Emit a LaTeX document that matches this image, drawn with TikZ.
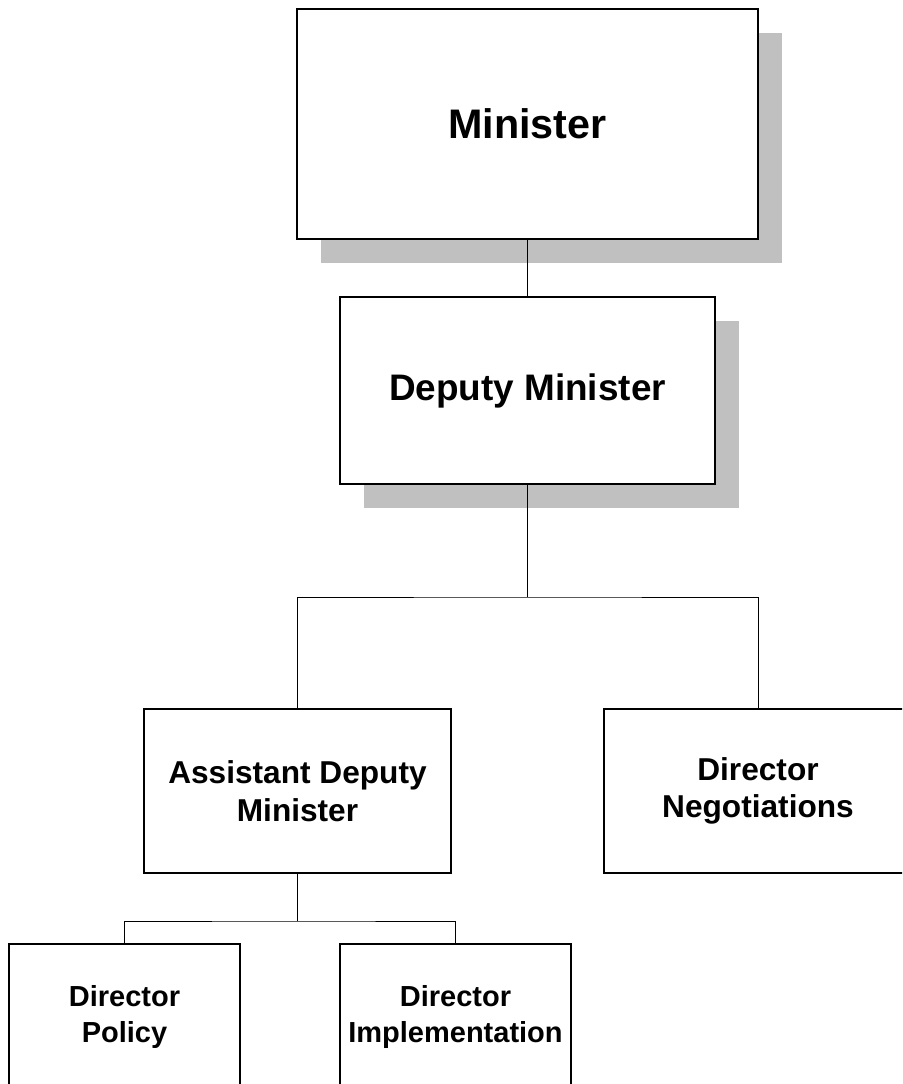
\documentclass[tikz,border=0pt]{standalone}
\usepackage{fontspec}
\setmainfont{Liberation Sans}
\usepackage{tikz}
\usetikzlibrary{shadows}
\usepackage{xcolor}
\definecolor{shadowgray}{RGB}{192,192,192}

\begin{document}
\begin{tikzpicture}[line cap=rect,
  post/.style={draw=black,line width=0.9pt,fill=white,align=center,inner sep=0pt,font=\bfseries},
  shadowed/.style={drop shadow={shadow xshift=0.48cm,shadow yshift=-0.49cm,fill=shadowgray,opacity=1}},
  link/.style={draw=black,line width=0.5pt}]
\useasboundingbox (0,0) rectangle (18.04,21.68);
\clip (0,0) rectangle (18.04,21.68);
\node[post,shadowed,minimum width=9.22cm,minimum height=4.6cm,font=\bfseries\fontsize{23.5}{27}\selectfont] (min) at (10.55,19.2) {Minister};
\node[post,shadowed,minimum width=7.5cm,minimum height=3.74cm,font=\bfseries\fontsize{21}{25}\selectfont] (dm) at (10.55,13.87) {Deputy Minister};
\node[post,minimum width=6.14cm,minimum height=3.28cm,font=\bfseries\fontsize{18}{21.4}\selectfont] (adm) at (5.95,5.86) {Assistant Deputy\\Minister};
\node[post,minimum width=6.16cm,minimum height=3.28cm,font=\bfseries\fontsize{18}{20.8}\selectfont] (dn) at (15.16,5.86) {Director\\Negotiations};
\node[post,minimum width=4.62cm,minimum height=2.92cm,font=\bfseries\fontsize{16.5}{20.8}\selectfont] (dp) at (2.49,1.34) {Director\\Policy};
\node[post,minimum width=4.62cm,minimum height=2.92cm,font=\bfseries\fontsize{16.5}{20.8}\selectfont] (di) at (9.11,1.34) {Director\\Implementation};
\coordinate (bus1) at (10.55,9.74);
\coordinate (bus2) at (5.95,3.26);
\draw[link] (min.south) -- (dm.north);
\draw[link] (dm.south) -- (bus1);
\draw[link] (adm.north) |- (bus1) -| (dn.north);
\draw[link] (adm.south) -- (bus2);
\draw[link] (dp.north) |- (bus2) -| (di.north);
\end{tikzpicture}
\end{document}
